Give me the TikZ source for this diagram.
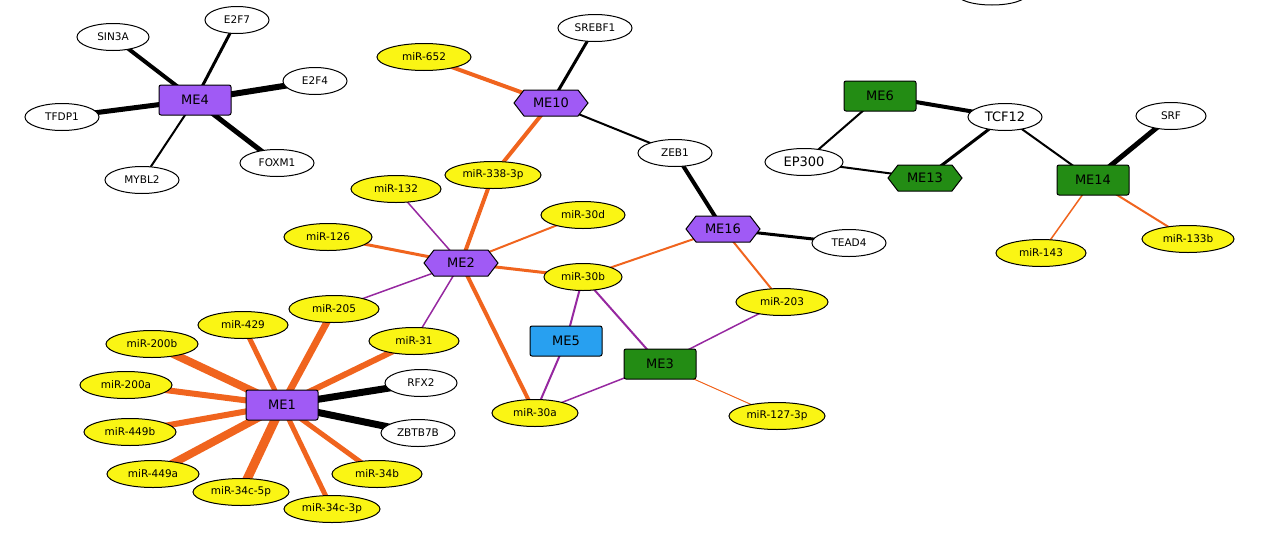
\documentclass[tikz,border=0pt]{standalone}
\usepackage{fontspec}
\setmainfont{DejaVu Sans}
\usetikzlibrary{shapes.geometric,backgrounds}
\definecolor{mor}{RGB}{240,100,30}
\definecolor{mpu}{RGB}{150,40,160}
\definecolor{ppl}{RGB}{160,90,245}
\definecolor{grn}{RGB}{35,140,20}
\definecolor{blu}{RGB}{40,160,240}
\definecolor{yel}{RGB}{250,245,20}
\newcommand{\hexnode}[4]{%
 \node[minimum width=74,minimum height=26,inner sep=0pt] (#1) at (#2) {};
 \path[fill=#3,draw=black,line width=1pt] ([xshift=-37pt]#1.center) -- ++(10,-13) -- ++(54,0) -- ++(10,13) -- ++(-10,13) -- ++(-54,0) -- cycle;
 \node[font=\fontsize{13}{14}\selectfont] at (#1.center) {#4};}
\begin{document}
\begin{tikzpicture}[x=1pt,y=-1pt,
 base/.style={draw=black,line width=1pt,inner sep=1pt,font=\fontsize{10.5}{12}\selectfont},
 tf/.style={base,ellipse,fill=white,minimum width=#1,minimum height=27},
 mi/.style={base,ellipse,fill=yel,minimum width=#1,minimum height=27},
 me/.style={base,rectangle,rounded corners=2pt,fill=#1,minimum width=72,minimum height=30,font=\fontsize{13}{14}\selectfont},
 ob/.style={mor,line width=#1},
 pb/.style={mpu,line width=#1},
 bb/.style={black,line width=#1}]
\useasboundingbox (0,0) rectangle (1280,544);
\begin{scope}
\clip (0,0) rectangle (1280,544);
\node[tf=70,minimum height=22] (top) at (992,-6) {};
\end{scope}
% nodes
\node[me=ppl] (ME4) at (195,100) {ME4};
\node[tf=72] (SIN3A) at (113,37) {SIN3A};
\node[tf=64] (E2F7) at (237,20) {E2F7};
\node[tf=64] (E2F4) at (315,81) {E2F4};
\node[tf=74] (TFDP1) at (62,117) {TFDP1};
\node[tf=74] (MYBL2) at (142,180) {MYBL2};
\node[tf=74] (FOXM1) at (277,163) {FOXM1};
\node[mi=94] (m652) at (424,57) {miR-652};
\node[tf=74] (SREBF1) at (595,28) {SREBF1};
\node[tf=74] (ZEB1) at (675,153) {ZEB1};
\node[tf=74] (TEAD4) at (849,243) {TEAD4};
\node[tf=78,font=\fontsize{13}{14}\selectfont] (EP300) at (804,162) {EP300};
\node[tf=74,font=\fontsize{13}{14}\selectfont] (TCF12) at (1005,117) {TCF12};
\node[tf=70] (SRF) at (1171,116) {SRF};
\node[mi=90] (m143) at (1041,253) {miR-143};
\node[mi=92] (m133b) at (1188,239) {miR-133b};
\node[me=grn] (ME6) at (880,96) {ME6};
\node[me=grn] (ME14) at (1093,180) {ME14};
\node[mi=96] (m338) at (493,175) {miR-338-3p};
\node[mi=90] (m132) at (396,189) {miR-132};
\node[mi=84] (m30d) at (583,215) {miR-30d};
\node[mi=88] (m126) at (328,237) {miR-126};
\node[mi=78] (m30b) at (583,277) {miR-30b};
\node[mi=92] (m203) at (782,302) {miR-203};
\node[me=blu] (ME5) at (566,341) {ME5};
\node[me=grn] (ME3) at (660,364) {ME3};
\node[mi=86] (m30a) at (535,413) {miR-30a};
\node[mi=96] (m127) at (777,416) {miR-127-3p};
\node[mi=90] (m205) at (334,309) {miR-205};
\node[mi=90] (m429) at (243,325) {miR-429};
\node[mi=92] (m200b) at (152,344) {miR-200b};
\node[mi=90] (m31) at (414,341) {miR-31};
\node[mi=92] (m200a) at (126,385) {miR-200a};
\node[me=ppl] (ME1) at (282,405) {ME1};
\node[tf=72] (RFX2) at (421,383) {RFX2};
\node[tf=74] (ZBTB7B) at (418,433) {ZBTB7B};
\node[mi=92] (m449b) at (130,432) {miR-449b};
\node[mi=92] (m449a) at (153,474) {miR-449a};
\node[mi=90] (m34b) at (377,474) {miR-34b};
\node[mi=96] (m34c5) at (241,492) {miR-34c-5p};
\node[mi=96] (m34c3) at (332,509) {miR-34c-3p};
\hexnode{ME10}{551,103}{ppl}{ME10}
\hexnode{ME16}{723,229}{ppl}{ME16}
\hexnode{ME2}{461,263}{ppl}{ME2}
\hexnode{ME13}{925,178}{grn}{ME13}
\begin{scope}[on background layer]
\draw[bb=5] (ME4.center) -- (TFDP1.center);
\draw[bb=6] (ME4.center) -- (E2F4.center);
\draw[bb=5] (ME4.center) -- (FOXM1.center);
\draw[bb=4] (ME4.center) -- (SIN3A.center);
\draw[bb=3] (ME4.center) -- (E2F7.center);
\draw[bb=2] (ME4.center) -- (MYBL2.center);
\draw[ob=4] (ME10.center) -- (m652.center);
\draw[bb=3] (ME10.center) -- (SREBF1.center);
\draw[bb=2] (ME10.center) -- (ZEB1.center);
\draw[ob=4] (ME10.center) -- (m338.center);
\draw[ob=4] (m338.center) -- (ME2.center);
\draw[bb=4] (ZEB1.center) -- (ME16.center);
\draw[bb=3] (ME16.center) -- (TEAD4.center);
\draw[ob=2] (ME16.center) -- (m30b.center);
\draw[ob=2] (ME16.center) -- (m203.center);
\draw[bb=2] (EP300.center) -- (ME6.center);
\draw[bb=2] (EP300.center) -- (ME13.center);
\draw[bb=4] (ME6.center) -- (TCF12.center);
\draw[bb=3] (TCF12.center) -- (ME13.center);
\draw[bb=2] (TCF12.center) -- (ME14.center);
\draw[bb=5] (ME14.center) -- (SRF.center);
\draw[ob=1.5] (ME14.center) -- (m143.center);
\draw[ob=2] (ME14.center) -- (m133b.center);
\draw[pb=1.5] (ME2.center) -- (m132.center);
\draw[ob=2] (ME2.center) -- (m30d.center);
\draw[ob=3] (ME2.center) -- (m126.center);
\draw[ob=3] (ME2.center) -- (m30b.center);
\draw[pb=1.5] (ME2.center) -- (m205.center);
\draw[pb=1.5] (ME2.center) -- (m31.center);
\draw[ob=4] (ME2.center) -- (m30a.center);
\draw[pb=2] (m30b.center) -- (ME5.center);
\draw[pb=2] (m30b.center) -- (ME3.center);
\draw[pb=2] (ME5.center) -- (m30a.center);
\draw[pb=1.5] (ME3.center) -- (m30a.center);
\draw[pb=1.5] (ME3.center) -- (m203.center);
\draw[ob=1] (ME3.center) -- (m127.center);
\draw[ob=7] (ME1.center) -- (m205.center);
\draw[ob=5] (ME1.center) -- (m429.center);
\draw[ob=8] (ME1.center) -- (m200b.center);
\draw[ob=6] (ME1.center) -- (m31.center);
\draw[ob=6] (ME1.center) -- (m200a.center);
\draw[ob=6] (ME1.center) -- (m449b.center);
\draw[ob=8] (ME1.center) -- (m449a.center);
\draw[ob=9] (ME1.center) -- (m34c5.center);
\draw[ob=5] (ME1.center) -- (m34c3.center);
\draw[ob=5] (ME1.center) -- (m34b.center);
\draw[bb=7] (ME1.center) -- (RFX2.center);
\draw[bb=7] (ME1.center) -- (ZBTB7B.center);
\end{scope}
\end{tikzpicture}
\end{document}
